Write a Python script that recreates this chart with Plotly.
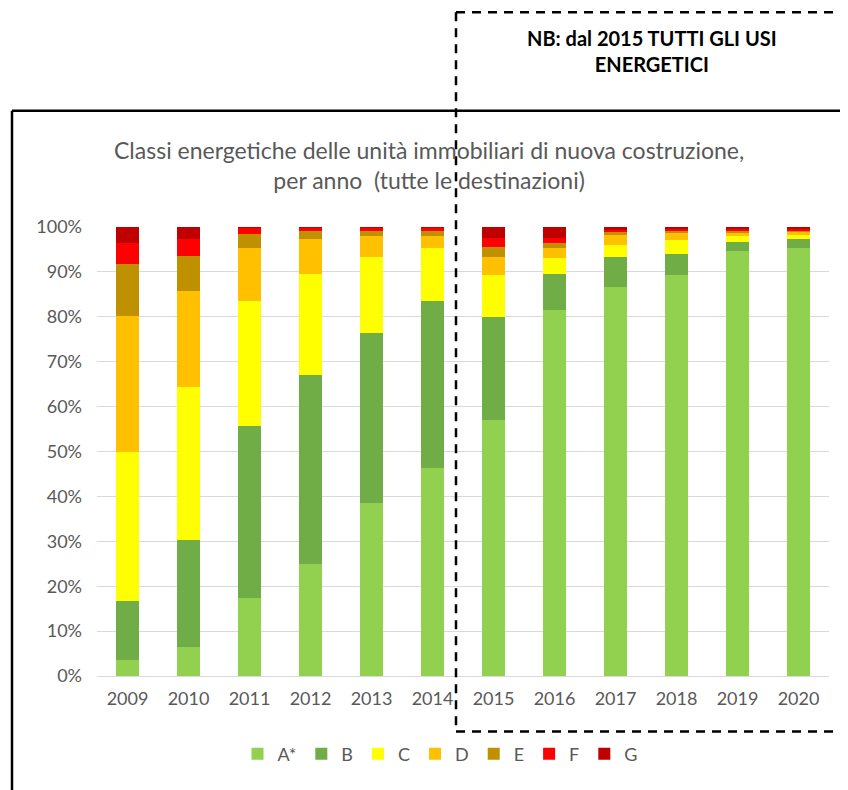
import plotly.graph_objects as go

years = ["2009", "2010", "2011", "2012", "2013", "2014",
         "2015", "2016", "2017", "2018", "2019", "2020"]
classes = ["A*", "B", "C", "D", "E", "F", "G"]
class_A = [3.6, 6.4, 17.3, 24.9, 38.6, 46.3, 57.1, 81.6, 86.7, 89.3, 94.7, 95.4]
class_B = [13.1, 23.8, 38.3, 42.2, 37.9, 37.3, 22.8, 8.0, 6.6, 4.6, 2.0, 2.0]
class_C = [33.3, 34.2, 28.0, 22.5, 16.9, 11.7, 9.4, 3.4, 2.8, 3.3, 1.4, 0.9]
class_D = [30.2, 21.4, 11.7, 7.7, 4.7, 2.8, 4.0, 2.3, 2.1, 1.6, 0.7, 0.6]
class_E = [11.6, 7.8, 3.1, 1.9, 1.1, 0.9, 2.3, 1.1, 0.6, 0.3, 0.2, 0.3]
class_F = [4.6, 3.7, 1.4, 0.7, 0.6, 0.8, 2.0, 1.2, 0.5, 0.6, 0.5, 0.4]
class_G = [3.6, 2.7, 0.2, 0.1, 0.2, 0.2, 2.4, 2.4, 0.7, 0.3, 0.5, 0.4]
colors = ["#92D050", "#70AD47", "#FFFF00", "#FFC000", "#BF9000", "#FF0000", "#C00000"]
series = [class_A, class_B, class_C, class_D, class_E, class_F, class_G]

FONT = "Lato"
GRAY = "#595959"

fig = go.Figure()
for name, vals, col in zip(classes, series, colors):
    fig.add_trace(go.Bar(x=years, y=vals, name=name, marker_color=col,
                         marker_line_width=0))

# page body has an 8px offset: figure spans 8..848 x 8..790
OFF = 8
W, H = 840, 782
L, R, T, B = 89, 19, 219, 113.5
pw, ph = W - L - R, H - T - B

def px(x):
    return (x - OFF - L) / pw

def py(y):
    return (H - B - (y - OFF)) / ph

shapes = [
    dict(type="line", xref="paper", yref="paper", x0=px(12), x1=px(870), y0=py(110.5), y1=py(110.5),
         line=dict(color="black", width=2.5)),
    dict(type="line", xref="paper", yref="paper", x0=px(12), x1=px(12), y0=py(110.5), y1=py(810),
         line=dict(color="black", width=2.5)),
    dict(type="line", xref="paper", yref="paper", x0=px(456), x1=px(456), y0=py(12), y1=py(732),
         line=dict(color="black", width=2.5, dash="9px,7px")),
    dict(type="line", xref="paper", yref="paper", x0=px(456), x1=px(870), y0=py(12), y1=py(12),
         line=dict(color="black", width=2.5, dash="9px,7px")),
    dict(type="line", xref="paper", yref="paper", x0=px(456), x1=px(870), y0=py(732), y1=py(732),
         line=dict(color="black", width=2.5, dash="9px,7px")),
]

annotations = [
    dict(xref="paper", yref="paper", x=px(429), y=py(165), xanchor="center", yanchor="middle",
         text="Classi energetiche delle unità immobiliari di nuova costruzione,<br>per anno  (tutte le destinazioni)",
         showarrow=False, font=dict(family=FONT, size=23, color=GRAY)),
    dict(xref="paper", yref="paper", x=px(652), y=py(51), xanchor="center", yanchor="middle",
         text="<b>NB: dal 2015 TUTTI GLI USI<br>ENERGETICI</b>",
         showarrow=False, font=dict(family=FONT, size=20, color="black")),
]

fig.update_layout(
    width=W, height=H,
    margin=dict(l=L, r=R, t=T, b=B, autoexpand=False),
    barmode="stack",
    bargap=0.607,
    plot_bgcolor="white", paper_bgcolor="white",
    font=dict(family=FONT, size=18, color=GRAY),
    showlegend=True,
    legend=dict(orientation="h", xref="container", yref="container",
                x=(440 - OFF) / W, y=1 - (754 - OFF) / H, xanchor="center", yanchor="middle",
                font=dict(family=FONT, size=18, color=GRAY),
                itemwidth=30, traceorder="normal"),
    shapes=shapes,
    annotations=annotations,
)
fig.update_xaxes(type="category", showgrid=False, showline=True, linecolor="#D9D9D9",
                 linewidth=1, ticks="", ticklabelstandoff=6,
                 tickfont=dict(family=FONT, size=18, color=GRAY))
fig.update_yaxes(range=[0, 100], dtick=10, ticksuffix="%", showgrid=True,
                 gridcolor="#D9D9D9", gridwidth=1, zeroline=False, showline=False,
                 ticks="", ticklabelstandoff=14,
                 tickfont=dict(family=FONT, size=18, color=GRAY))

fig.write_html("out.html")
